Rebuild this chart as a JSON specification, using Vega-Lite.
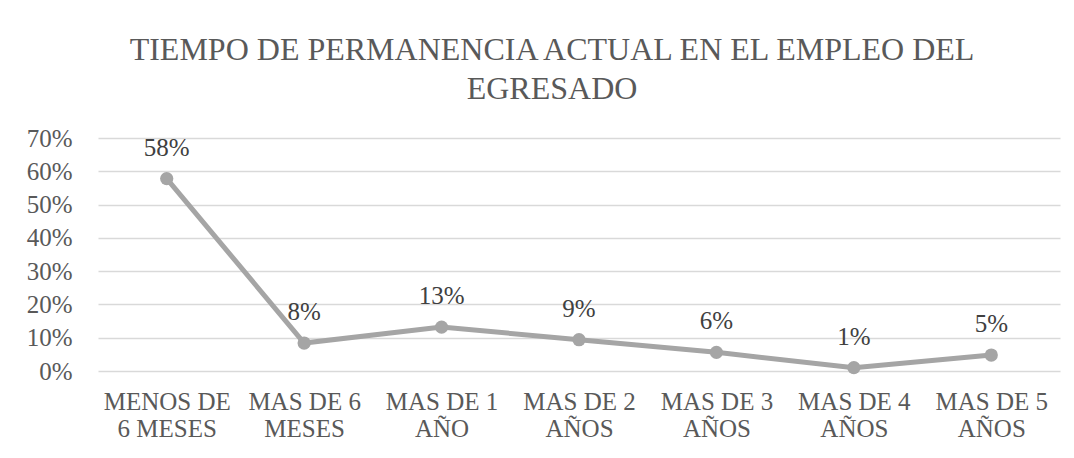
{
  "$schema": "https://vega.github.io/schema/vega-lite/v6.json",
  "autosize": "none",
  "width": 962,
  "height": 233,
  "padding": {"left": 98, "top": 138, "right": 14, "bottom": 87},
  "background": "white",
  "title": {
    "text": ["TIEMPO DE PERMANENCIA ACTUAL EN EL EMPLEO DEL", "EGRESADO"],
    "font": "Liberation Serif",
    "fontSize": 32,
    "fontWeight": "normal",
    "color": "#595959",
    "lineHeight": 39,
    "anchor": "middle",
    "offset": 20,
    "dx": -27
  },
  "data": {
    "values": [
      {"cat": "MENOS DE|6 MESES", "v": 0.578},
      {"cat": "MAS DE 6|MESES", "v": 0.084},
      {"cat": "MAS DE 1|AÑO", "v": 0.132},
      {"cat": "MAS DE 2|AÑOS", "v": 0.094},
      {"cat": "MAS DE 3|AÑOS", "v": 0.056},
      {"cat": "MAS DE 4|AÑOS", "v": 0.01},
      {"cat": "MAS DE 5|AÑOS", "v": 0.048}
    ]
  },
  "encoding": {
    "x": {
      "field": "cat", "type": "ordinal", "sort": null,
      "axis": {
        "title": null, "labelAngle": 0,
        "labelExpr": "split(datum.label, '|')",
        "labelFont": "Liberation Serif", "labelFontSize": 25, "labelColor": "#595959",
        "labelLineHeight": 27, "labelPadding": 18,
        "ticks": false, "domain": false, "grid": false
      }
    },
    "y": {
      "field": "v", "type": "quantitative",
      "scale": {"domain": [0, 0.7], "nice": false},
      "axis": {
        "title": null, "values": [0, 0.1, 0.2, 0.3, 0.4, 0.5, 0.6, 0.7],
        "format": ".0%",
        "labelFont": "Liberation Serif", "labelFontSize": 25, "labelColor": "#595959",
        "labelPadding": 26, "ticks": false, "domain": false,
        "grid": true, "gridColor": "#d9d9d9", "gridWidth": 1.3
      }
    }
  },
  "layer": [
    {"mark": {"type": "line", "color": "#a5a5a5", "strokeWidth": 5}},
    {"mark": {"type": "point", "filled": true, "color": "#a5a5a5", "size": 175, "opacity": 1}},
    {
      "mark": {"type": "text", "font": "Liberation Serif", "fontSize": 25, "color": "#404040", "baseline": "alphabetic", "dy": -23},
      "encoding": {"text": {"field": "v", "type": "quantitative", "format": ".0%"}}
    }
  ],
  "config": {"view": {"stroke": null}}
}
